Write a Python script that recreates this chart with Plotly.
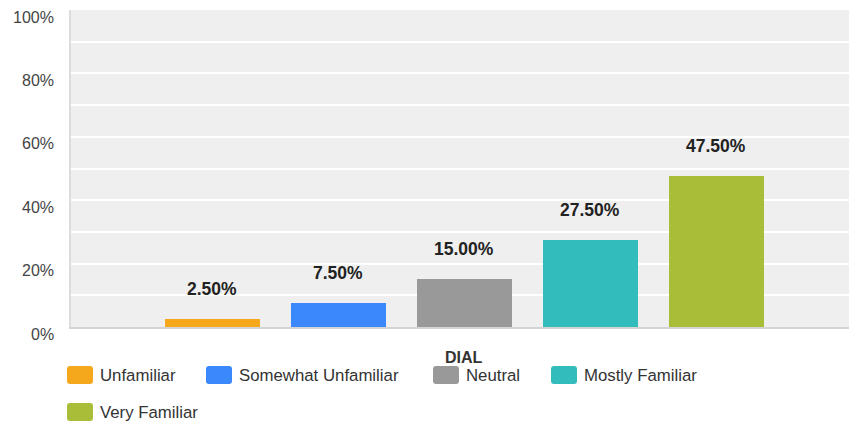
import plotly.graph_objects as go

categories = ["Unfamiliar", "Somewhat Unfamiliar", "Neutral", "Mostly Familiar", "Very Familiar"]
values = [2.5, 7.5, 15.0, 27.5, 47.5]
colors = ["#F6A81D", "#3B88FD", "#999999", "#32BCBC", "#A9BD38"]
group_label = "DIAL"
y_ticks = [0, 20, 40, 60, 80, 100]
y_tick_text = ["0%", "20%", "40%", "60%", "80%", "100%"]

FONT = "Liberation Sans, Arial, sans-serif"

fig = go.Figure()
for i, (name, val, col) in enumerate(zip(categories, values, colors)):
    fig.add_trace(go.Bar(
        x=[i], y=[val], name=name, width=0.754,
        marker=dict(color=col, line=dict(width=0)),
        showlegend=False, hoverinfo="skip",
    ))
    # value label above each bar
    fig.add_annotation(
        x=i, y=val, xref="x", yref="y", text=f"{val:.2f}%",
        showarrow=False, yanchor="middle", yshift=30,
        font=dict(family=FONT, size=17.5, color="#222222", weight="bold"),
    )

# y tick labels, set slightly below their gridlines
for v, t in zip(y_ticks, y_tick_text):
    fig.add_annotation(
        x=0, y=v, xref="paper", yref="y", text=t, showarrow=False,
        xanchor="right", yanchor="middle", xshift=-15, yshift=-7,
        font=dict(family=FONT, size=16, color="#444444"),
    )

# category label under the group
fig.add_annotation(
    x=(len(categories) - 1) / 2, y=0, xref="x", yref="paper", text=group_label,
    showarrow=False, yanchor="middle", yshift=-30,
    font=dict(family=FONT, size=16, color="#333333", weight="bold"),
)

# legend drawn below the plot: rounded swatch + label
legend_pos = [(67, 375), (206, 375), (433, 375), (551, 375), (67, 412)]
W, H = 849, 422
ml, mr, mt, mb = 71, 0, 10, 95
pw, ph = W - ml - mr, H - mt - mb


def to_paper(px, py):
    return (px - ml) / pw, (H - mb - py) / ph


def rounded_rect(x0, y0, x1, y1, r):
    pts = [
        (x0 + r, y0), (x1 - r, y0), (x1, y0), (x1, y0 + r),
        (x1, y1 - r), (x1, y1), (x1 - r, y1), (x0 + r, y1),
        (x0, y1), (x0, y1 - r), (x0, y0 + r), (x0, y0),
    ]
    p = [to_paper(*q) for q in pts]
    f = lambda q: f"{q[0]:.5f},{q[1]:.5f}"
    return (f"M {f(p[0])} L {f(p[1])} Q {f(p[2])} {f(p[3])} L {f(p[4])} "
            f"Q {f(p[5])} {f(p[6])} L {f(p[7])} Q {f(p[8])} {f(p[9])} "
            f"L {f(p[10])} Q {f(p[11])} {f(p[0])} Z")


for (px, py), name, col in zip(legend_pos, categories, colors):
    fig.add_shape(type="path", xref="paper", yref="paper",
                  path=rounded_rect(px, py - 9, px + 26, py + 9, 3),
                  fillcolor=col, line=dict(width=0))
    tx, ty = to_paper(px + 31, py)
    fig.add_annotation(
        x=tx, y=ty, xref="paper", yref="paper",
        text=name, showarrow=False, xanchor="left", yanchor="middle",
        font=dict(family=FONT, size=16.8, color="#333333"),
    )

fig.update_layout(
    width=W, height=H,
    margin=dict(l=ml, r=mr, t=mt, b=mb),
    paper_bgcolor="white", plot_bgcolor="#EFEFEF",
    bargap=0, showlegend=False,
    font=dict(family=FONT),
    xaxis=dict(range=[-1.123, 5.052], showticklabels=False, showgrid=False,
               zeroline=False, showline=True, linecolor="#D4D4D4", linewidth=2,
               fixedrange=True),
    yaxis=dict(range=[0, 100], dtick=10, showticklabels=False,
               showgrid=True, gridcolor="white", gridwidth=2,
               zeroline=False, showline=True, linecolor="#DCDCDC", linewidth=2,
               fixedrange=True),
)

fig.write_html("out.html", config={"displayModeBar": False})
